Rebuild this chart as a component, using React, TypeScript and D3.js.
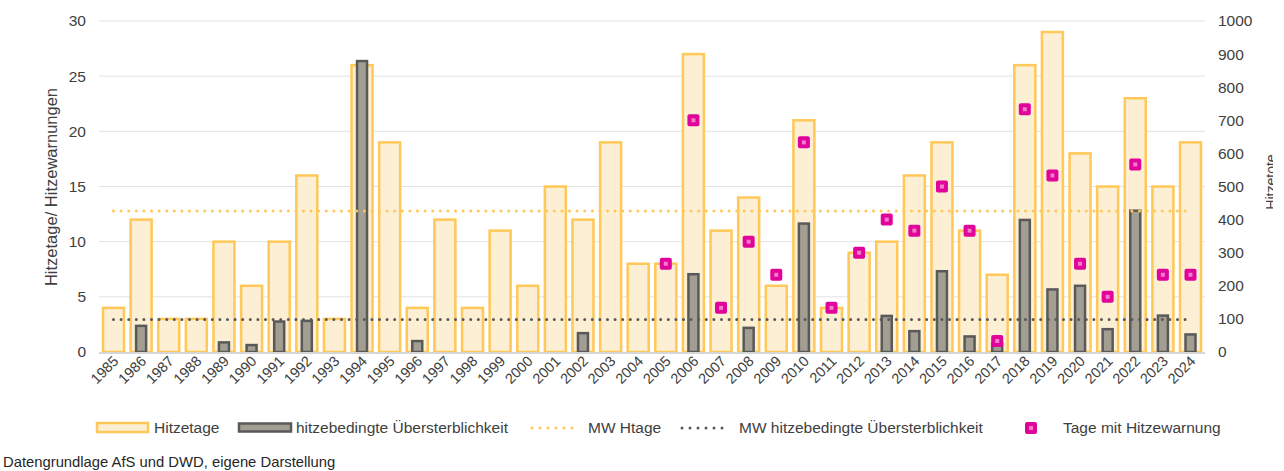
import React, { useEffect, useRef } from "react";
import * as d3 from "d3";

const years = [
  "1985", "1986", "1987", "1988", "1989", "1990", "1991", "1992", "1993", "1994",
  "1995", "1996", "1997", "1998", "1999", "2000", "2001", "2002", "2003", "2004",
  "2005", "2006", "2007", "2008", "2009", "2010", "2011", "2012", "2013", "2014",
  "2015", "2016", "2017", "2018", "2019", "2020", "2021", "2022", "2023", "2024",
];

// Hitzetage (left axis)
const hitzetage = [
  4, 12, 3, 3, 10, 6, 10, 16, 3, 26,
  19, 4, 12, 4, 11, 6, 15, 12, 19, 8,
  8, 27, 11, 14, 6, 21, 4, 9, 10, 16,
  19, 11, 7, 26, 29, 18, 15, 23, 15, 19,
];

// hitzebedingte Übersterblichkeit (right axis, Hitzetote)
const uebersterblichkeit = [
  0, 79, 0, 0, 29, 21, 92, 94, 0, 879,
  0, 33, 0, 0, 0, 0, 0, 57, 0, 0,
  0, 235, 0, 73, 0, 388, 0, 0, 109, 63,
  244, 47, 25, 399, 189, 200, 69, 427, 110, 53,
];

// Tage mit Hitzewarnung (left axis), null = keine Daten
const hitzewarnung: (number | null)[] = [
  null, null, null, null, null, null, null, null, null, null,
  null, null, null, null, null, null, null, null, null, null,
  8, 21, 4, 10, 7, 19, 4, 9, 12, 11,
  15, 11, 1, 22, 16, 8, 5, 17, 7, 7,
];

const leftTicks = [0, 5, 10, 15, 20, 25, 30];
const rightTicks = [0, 100, 200, 300, 400, 500, 600, 700, 800, 900, 1000];

const ORANGE = "#ffc858";
const ORANGE_FILL = "#fdefd3";
const GREY_FILL = "#a39e92";
const GREY_STROKE = "#595959";
const PINK = "#e0049b";
const TEXT = "#404040";
const FONT = "'Liberation Sans', Arial, sans-serif";

const App: React.FC = () => {
  const svgRef = useRef<SVGSVGElement>(null);

  useEffect(() => {
    const svg = d3.select(svgRef.current);
    svg.selectAll("*").remove();

    const x = d3.scaleBand().domain(years).range([99, 1205]).paddingInner(0.24).paddingOuter(0.145);
    const yL = d3.scaleLinear().domain([0, 30]).range([352, 21]);
    const yR = d3.scaleLinear().domain([0, 1000]).range([352, 21]);
    const cx = (y: string) => x(y)! + x.bandwidth() / 2;

    // clip for the cut-off right axis title
    svg
      .append("defs")
      .append("clipPath")
      .attr("id", "rclip")
      .append("rect")
      .attr("x", 0)
      .attr("y", 0)
      .attr("width", 1273)
      .attr("height", 471);

    // gridlines
    svg
      .append("g")
      .selectAll("line")
      .data(leftTicks.filter((t) => t > 0))
      .join("line")
      .attr("x1", 99)
      .attr("x2", 1205)
      .attr("y1", (d) => yL(d))
      .attr("y2", (d) => yL(d))
      .attr("stroke", "#e2e2e2")
      .attr("stroke-width", 1);

    // Hitzetage bars
    svg
      .append("g")
      .selectAll("rect")
      .data(hitzetage)
      .join("rect")
      .attr("x", (d, i) => x(years[i])!)
      .attr("y", (d) => yL(d))
      .attr("width", x.bandwidth())
      .attr("height", (d) => yL(0) - yL(d))
      .attr("fill", ORANGE_FILL)
      .attr("stroke", ORANGE)
      .attr("stroke-width", 2.5);

    // Übersterblichkeit bars
    const gw = 10;
    svg
      .append("g")
      .selectAll("rect")
      .data(uebersterblichkeit.map((v, i) => ({ v, year: years[i] })).filter((d) => d.v > 0))
      .join("rect")
      .attr("x", (d) => cx(d.year) - gw / 2)
      .attr("y", (d) => yR(d.v))
      .attr("width", gw)
      .attr("height", (d) => yR(0) - yR(d.v))
      .attr("fill", GREY_FILL)
      .attr("stroke", GREY_STROKE)
      .attr("stroke-width", 2.5);

    // baseline
    svg
      .append("line")
      .attr("x1", 99)
      .attr("x2", 1205)
      .attr("y1", yL(0) + 1)
      .attr("y2", yL(0) + 1)
      .attr("stroke", "#d6d6d6")
      .attr("stroke-width", 2);

    // mean lines
    const mwHtage = d3.mean(hitzetage)!;
    const mwUeber = d3.mean(uebersterblichkeit)!;
    const x0 = cx(years[0]);
    const x1 = cx(years[years.length - 1]);
    svg
      .append("line")
      .attr("x1", x0)
      .attr("x2", x1)
      .attr("y1", yL(mwHtage))
      .attr("y2", yL(mwHtage))
      .attr("stroke", ORANGE)
      .attr("stroke-width", 3)
      .attr("stroke-linecap", "round")
      .attr("stroke-dasharray", "0 7.6");
    svg
      .append("line")
      .attr("x1", x0)
      .attr("x2", x1)
      .attr("y1", yR(mwUeber))
      .attr("y2", yR(mwUeber))
      .attr("stroke", GREY_STROKE)
      .attr("stroke-width", 3)
      .attr("stroke-linecap", "round")
      .attr("stroke-dasharray", "0 7.6");

    // Hitzewarnung markers
    const marker = (g: any, px: number, py: number) => {
      g.append("rect")
        .attr("x", px - 6)
        .attr("y", py - 6)
        .attr("width", 12)
        .attr("height", 12)
        .attr("rx", 2)
        .attr("fill", PINK);
      g.append("rect")
        .attr("x", px - 2)
        .attr("y", py - 2)
        .attr("width", 4)
        .attr("height", 4)
        .attr("fill", "#f27ccb");
    };
    const mg = svg.append("g");
    hitzewarnung.forEach((v, i) => {
      if (v == null) return;
      marker(mg, cx(years[i]), yL(v));
    });

    // left axis labels
    svg
      .append("g")
      .selectAll("text")
      .data(leftTicks)
      .join("text")
      .attr("x", 86)
      .attr("y", (d) => yL(d))
      .attr("dy", "0.35em")
      .attr("text-anchor", "end")
      .style("font-size", "15.5px")
      .attr("fill", TEXT)
      .text((d) => d);

    // right axis labels
    svg
      .append("g")
      .selectAll("text")
      .data(rightTicks)
      .join("text")
      .attr("x", 1218)
      .attr("y", (d) => yR(d))
      .attr("dy", "0.35em")
      .attr("text-anchor", "start")
      .style("font-size", "15.5px")
      .attr("fill", TEXT)
      .text((d) => d);

    // x labels
    svg
      .append("g")
      .selectAll("text")
      .data(years)
      .join("text")
      .attr("transform", (d) => `translate(${cx(d) + 6},${362}) rotate(-45)`)
      .attr("text-anchor", "end")
      .style("font-size", "14.5px")
      .attr("fill", TEXT)
      .text((d) => d);

    // axis titles
    svg
      .append("text")
      .attr("transform", "translate(57,187) rotate(-90)")
      .attr("text-anchor", "middle")
      .style("font-size", "16.5px")
      .attr("fill", TEXT)
      .text("Hitzetage/ Hitzewarnungen");
    svg
      .append("g")
      .attr("clip-path", "url(#rclip)")
      .append("text")
      .attr("transform", "translate(1276,182) rotate(-90)")
      .attr("text-anchor", "middle")
      .style("font-size", "14px")
      .attr("fill", TEXT)
      .text("Hitzetote");

    // legend
    const ly = 428;
    const lg = svg.append("g").style("font-size", "15.5px").attr("fill", TEXT);
    lg.append("rect")
      .attr("x", 97).attr("y", ly - 5).attr("width", 51).attr("height", 9)
      .attr("fill", ORANGE_FILL).attr("stroke", ORANGE).attr("stroke-width", 2.5);
    lg.append("text").attr("x", 154).attr("y", ly).attr("dy", "0.35em").text("Hitzetage");
    lg.append("rect")
      .attr("x", 239).attr("y", ly - 4.5).attr("width", 52).attr("height", 8)
      .attr("fill", GREY_FILL).attr("stroke", GREY_STROKE).attr("stroke-width", 2.5);
    lg.append("text").attr("x", 296).attr("y", ly).attr("dy", "0.35em").text("hitzebedingte Übersterblichkeit");
    lg.append("line")
      .attr("x1", 532).attr("x2", 580).attr("y1", ly).attr("y2", ly)
      .attr("stroke", ORANGE).attr("stroke-width", 3).attr("stroke-linecap", "round")
      .attr("stroke-dasharray", "0 8");
    lg.append("text").attr("x", 588).attr("y", ly).attr("dy", "0.35em").text("MW Htage");
    lg.append("line")
      .attr("x1", 682).attr("x2", 730).attr("y1", ly).attr("y2", ly)
      .attr("stroke", GREY_STROKE).attr("stroke-width", 3).attr("stroke-linecap", "round")
      .attr("stroke-dasharray", "0 8");
    lg.append("text").attr("x", 739).attr("y", ly).attr("dy", "0.35em").text("MW hitzebedingte Übersterblichkeit");
    marker(lg, 1031, ly);
    lg.append("text").attr("x", 1063).attr("y", ly).attr("dy", "0.35em").text("Tage mit Hitzewarnung");

    // source
    svg
      .append("text")
      .attr("x", 3)
      .attr("y", 467)
      .style("font-size", "14.8px")
      .attr("fill", "#262626")
      .text("Datengrundlage AfS und DWD, eigene Darstellung");
  }, []);

  return (
    <svg
      ref={svgRef}
      width={1284}
      height={471}
      style={{ position: "absolute", left: 0, top: 0, fontFamily: FONT, background: "#fff" }}
    />
  );
};

export default App;
